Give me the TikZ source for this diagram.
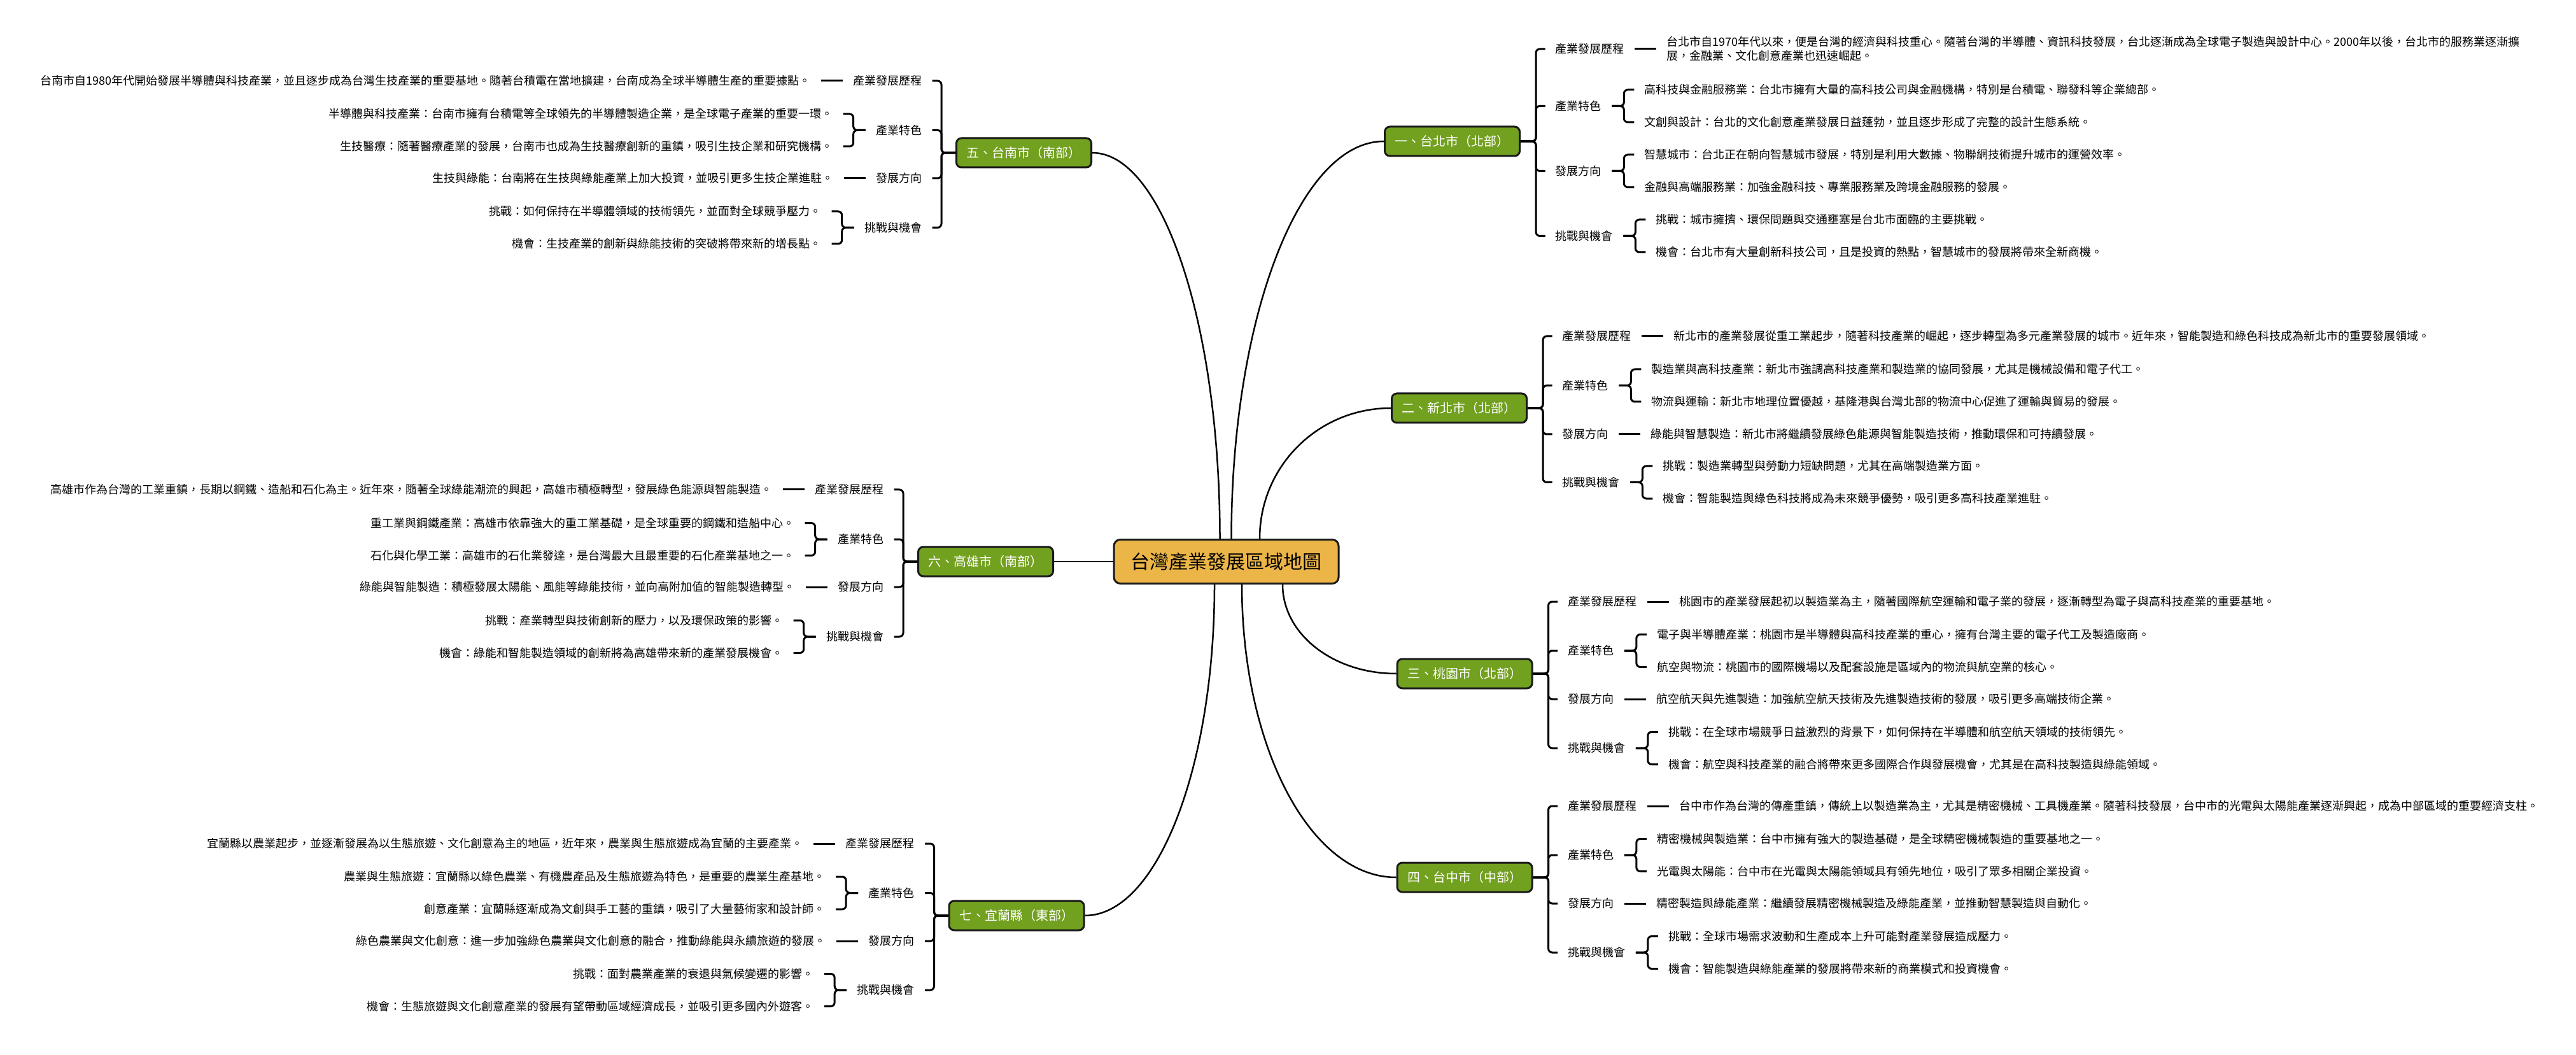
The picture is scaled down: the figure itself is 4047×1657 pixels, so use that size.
\documentclass[tikz,border=0pt]{standalone}
\usepackage{fontspec}
\setmainfont{Noto Sans CJK TC}
\definecolor{ctrfill}{HTML}{EBB548}
\definecolor{brfill}{HTML}{72A01F}
\definecolor{edgec}{HTML}{1A1A1A}
\begin{document}
\begin{tikzpicture}[x=0.5pt,y=-0.5pt,
  ctrnode/.style={draw=edgec, line width=1.5pt, fill=ctrfill, rounded corners=5pt, minimum width=176.5pt, minimum height=34.5pt, inner sep=0pt, font=\fontsize{15pt}{18pt}\selectfont},
  branch/.style={draw=edgec, line width=1.5pt, fill=brfill, rounded corners=4pt, minimum width=106pt, minimum height=23pt, inner sep=0pt, text=white, font=\fontsize{10pt}{12pt}\selectfont},
  lbl/.style={inner xsep=8pt, inner ysep=2pt, font=\fontsize{9pt}{11pt}\selectfont},
  item/.style={inner xsep=8pt, inner ysep=2pt, font=\fontsize{9pt}{11pt}\selectfont},
  curve/.style={line width=1.25pt},
  br/.style={line width=1.5pt, rounded corners=3pt},
]
\fill[white] (0,0) rectangle (4047,1657);
\useasboundingbox (0,0) rectangle (4047,1657);

% center and branches
\node[ctrnode] (ctr) at (1926.5,882) {台灣產業發展區域地圖};
\node[branch] (b1) at (2281.5,222) {一、台北市（北部）};
\node[branch] (b2) at (2292.5,641) {二、新北市（北部）};
\node[branch] (b3) at (2301,1058) {三、桃園市（北部）};
\node[branch] (b4) at (2301,1378) {四、台中市（中部）};
\node[branch] (b5) at (1608.5,240) {五、台南市（南部）};
\node[branch] (b6) at (1548.5,882) {六、高雄市（南部）};
\node[branch] (b7) at (1597,1438) {七、宜蘭縣（東部）};

\draw[curve] ([shift={(8,0)}]ctr.north) .. controls +(0,-345) and +(-133,0) .. (b1.west);
\draw[curve] ([shift={(52.5,0)}]ctr.north) .. controls +(0,-114) and +(-114,0) .. (b2.west);
\draw[curve] ([shift={(88.5,0)}]ctr.south) .. controls +(0,78) and +(-99,0) .. (b3.west);
\draw[curve] ([shift={(24.5,0)}]ctr.south) .. controls +(0,255) and +(-135,0) .. (b4.west);
\draw[curve] ([shift={(-10,0)}]ctr.north) .. controls +(0,-335) and +(111,0) .. (b5.east);
\draw[curve] (ctr.west) -- (b6.east);
\draw[curve] ([shift={(-18.5,0)}]ctr.south) .. controls +(0,288) and +(113,0) .. (b7.east);

% ---------- 1 台北 ----------
\node[lbl,anchor=west] (n1a) at (2427.5,77) {產業發展歷程};
\node[lbl,anchor=west] (n1b) at (2427.5,166.5) {產業特色};
\node[lbl,anchor=west] (n1c) at (2427.5,268.5) {發展方向};
\node[lbl,anchor=west] (n1d) at (2427.5,370.5) {挑戰與機會};
\node[item,anchor=west,align=left] (n1a1) at ([shift={(34,0)}]n1a.east) {台北市自1970年代以來，便是台灣的經濟與科技重心。隨著台灣的半導體、資訊科技發展，台北逐漸成為全球電子製造與設計中心。2000年以後，台北市的服務業逐漸擴\\展，金融業、文化創意產業也迅速崛起。};
\node[item,anchor=west] (n1b1) at ([shift={(35,-25.5)}]n1b.east) {高科技與金融服務業：台北市擁有大量的高科技公司與金融機構，特別是台積電、聯發科等企業總部。};
\node[item,anchor=west] (n1b2) at ([shift={(35,25.5)}]n1b.east) {文創與設計：台北的文化創意產業發展日益蓬勃，並且逐步形成了完整的設計生態系統。};
\node[item,anchor=west] (n1c1) at ([shift={(35,-25.5)}]n1c.east) {智慧城市：台北正在朝向智慧城市發展，特別是利用大數據、物聯網技術提升城市的運營效率。};
\node[item,anchor=west] (n1c2) at ([shift={(35,25.5)}]n1c.east) {金融與高端服務業：加強金融科技、專業服務業及跨境金融服務的發展。};
\node[item,anchor=west] (n1d1) at ([shift={(35,-25.5)}]n1d.east) {挑戰：城市擁擠、環保問題與交通壅塞是台北市面臨的主要挑戰。};
\node[item,anchor=west] (n1d2) at ([shift={(35,25.5)}]n1d.east) {機會：台北市有大量創新科技公司，且是投資的熱點，智慧城市的發展將帶來全新商機。};
\foreach \l in {n1a,n1b,n1c,n1d} \draw[br] (b1.east) -- ++(24,0) |- (\l.west);
\draw[br] (n1a.east) -- (n1a1.west);
\foreach \i in {n1b1,n1b2} \draw[br] (n1b.east) -- ++(19,0) |- (\i.west);
\foreach \i in {n1c1,n1c2} \draw[br] (n1c.east) -- ++(19,0) |- (\i.west);
\foreach \i in {n1d1,n1d2} \draw[br] (n1d.east) -- ++(19,0) |- (\i.west);

% ---------- 2 新北 ----------
\node[lbl,anchor=west] (n2a) at (2438.5,528) {產業發展歷程};
\node[lbl,anchor=west] (n2b) at (2438.5,605.5) {產業特色};
\node[lbl,anchor=west] (n2c) at (2438.5,682) {發展方向};
\node[lbl,anchor=west] (n2d) at (2438.5,757.5) {挑戰與機會};
\node[item,anchor=west] (n2a1) at ([shift={(34,0)}]n2a.east) {新北市的產業發展從重工業起步，隨著科技產業的崛起，逐步轉型為多元產業發展的城市。近年來，智能製造和綠色科技成為新北市的重要發展領域。};
\node[item,anchor=west] (n2b1) at ([shift={(35,-25.5)}]n2b.east) {製造業與高科技產業：新北市強調高科技產業和製造業的協同發展，尤其是機械設備和電子代工。};
\node[item,anchor=west] (n2b2) at ([shift={(35,25.5)}]n2b.east) {物流與運輸：新北市地理位置優越，基隆港與台灣北部的物流中心促進了運輸與貿易的發展。};
\node[item,anchor=west] (n2c1) at ([shift={(34,0)}]n2c.east) {綠能與智慧製造：新北市將繼續發展綠色能源與智能製造技術，推動環保和可持續發展。};
\node[item,anchor=west] (n2d1) at ([shift={(35,-25.5)}]n2d.east) {挑戰：製造業轉型與勞動力短缺問題，尤其在高端製造業方面。};
\node[item,anchor=west] (n2d2) at ([shift={(35,25.5)}]n2d.east) {機會：智能製造與綠色科技將成為未來競爭優勢，吸引更多高科技產業進駐。};
\foreach \l in {n2a,n2b,n2c,n2d} \draw[br] (b2.east) -- ++(24,0) |- (\l.west);
\draw[br] (n2a.east) -- (n2a1.west);
\draw[br] (n2c.east) -- (n2c1.west);
\foreach \i in {n2b1,n2b2} \draw[br] (n2b.east) -- ++(19,0) |- (\i.west);
\foreach \i in {n2d1,n2d2} \draw[br] (n2d.east) -- ++(19,0) |- (\i.west);

% ---------- 3 桃園 ----------
\node[lbl,anchor=west] (n3a) at (2447,945) {產業發展歷程};
\node[lbl,anchor=west] (n3b) at (2447,1022) {產業特色};
\node[lbl,anchor=west] (n3c) at (2447,1098) {發展方向};
\node[lbl,anchor=west] (n3d) at (2447,1175) {挑戰與機會};
\node[item,anchor=west] (n3a1) at ([shift={(34,0)}]n3a.east) {桃園市的產業發展起初以製造業為主，隨著國際航空運輸和電子業的發展，逐漸轉型為電子與高科技產業的重要基地。};
\node[item,anchor=west] (n3b1) at ([shift={(35,-25.5)}]n3b.east) {電子與半導體產業：桃園市是半導體與高科技產業的重心，擁有台灣主要的電子代工及製造廠商。};
\node[item,anchor=west] (n3b2) at ([shift={(35,25.5)}]n3b.east) {航空與物流：桃園市的國際機場以及配套設施是區域內的物流與航空業的核心。};
\node[item,anchor=west] (n3c1) at ([shift={(34,0)}]n3c.east) {航空航天與先進製造：加強航空航天技術及先進製造技術的發展，吸引更多高端技術企業。};
\node[item,anchor=west] (n3d1) at ([shift={(35,-25.5)}]n3d.east) {挑戰：在全球市場競爭日益激烈的背景下，如何保持在半導體和航空航天領域的技術領先。};
\node[item,anchor=west] (n3d2) at ([shift={(35,25.5)}]n3d.east) {機會：航空與科技產業的融合將帶來更多國際合作與發展機會，尤其是在高科技製造與綠能領域。};
\foreach \l in {n3a,n3b,n3c,n3d} \draw[br] (b3.east) -- ++(24,0) |- (\l.west);
\draw[br] (n3a.east) -- (n3a1.west);
\draw[br] (n3c.east) -- (n3c1.west);
\foreach \i in {n3b1,n3b2} \draw[br] (n3b.east) -- ++(19,0) |- (\i.west);
\foreach \i in {n3d1,n3d2} \draw[br] (n3d.east) -- ++(19,0) |- (\i.west);

% ---------- 4 台中 ----------
\node[lbl,anchor=west] (n4a) at (2447,1266) {產業發展歷程};
\node[lbl,anchor=west] (n4b) at (2447,1343) {產業特色};
\node[lbl,anchor=west] (n4c) at (2447,1419) {發展方向};
\node[lbl,anchor=west] (n4d) at (2447,1496) {挑戰與機會};
\node[item,anchor=west] (n4a1) at ([shift={(34,0)}]n4a.east) {台中市作為台灣的傳產重鎮，傳統上以製造業為主，尤其是精密機械、工具機產業。隨著科技發展，台中市的光電與太陽能產業逐漸興起，成為中部區域的重要經濟支柱。};
\node[item,anchor=west] (n4b1) at ([shift={(35,-25.5)}]n4b.east) {精密機械與製造業：台中市擁有強大的製造基礎，是全球精密機械製造的重要基地之一。};
\node[item,anchor=west] (n4b2) at ([shift={(35,25.5)}]n4b.east) {光電與太陽能：台中市在光電與太陽能領域具有領先地位，吸引了眾多相關企業投資。};
\node[item,anchor=west] (n4c1) at ([shift={(34,0)}]n4c.east) {精密製造與綠能產業：繼續發展精密機械製造及綠能產業，並推動智慧製造與自動化。};
\node[item,anchor=west] (n4d1) at ([shift={(35,-25.5)}]n4d.east) {挑戰：全球市場需求波動和生產成本上升可能對產業發展造成壓力。};
\node[item,anchor=west] (n4d2) at ([shift={(35,25.5)}]n4d.east) {機會：智能製造與綠能產業的發展將帶來新的商業模式和投資機會。};
\foreach \l in {n4a,n4b,n4c,n4d} \draw[br] (b4.east) -- ++(24,0) |- (\l.west);
\draw[br] (n4a.east) -- (n4a1.west);
\draw[br] (n4c.east) -- (n4c1.west);
\foreach \i in {n4b1,n4b2} \draw[br] (n4b.east) -- ++(19,0) |- (\i.west);
\foreach \i in {n4d1,n4d2} \draw[br] (n4d.east) -- ++(19,0) |- (\i.west);

% ---------- 5 台南 ----------
\node[lbl,anchor=east] (n5a) at (1464.5,127) {產業發展歷程};
\node[lbl,anchor=east] (n5b) at (1464.5,204.5) {產業特色};
\node[lbl,anchor=east] (n5c) at (1464.5,280) {發展方向};
\node[lbl,anchor=east] (n5d) at (1464.5,357.5) {挑戰與機會};
\node[item,anchor=east] (n5a1) at ([shift={(-34,0)}]n5a.west) {台南市自1980年代開始發展半導體與科技產業，並且逐步成為台灣生技產業的重要基地。隨著台積電在當地擴建，台南成為全球半導體生產的重要據點。};
\node[item,anchor=east] (n5b1) at ([shift={(-35,-25.5)}]n5b.west) {半導體與科技產業：台南市擁有台積電等全球領先的半導體製造企業，是全球電子產業的重要一環。};
\node[item,anchor=east] (n5b2) at ([shift={(-35,25.5)}]n5b.west) {生技醫療：隨著醫療產業的發展，台南市也成為生技醫療創新的重鎮，吸引生技企業和研究機構。};
\node[item,anchor=east] (n5c1) at ([shift={(-34,0)}]n5c.west) {生技與綠能：台南將在生技與綠能產業上加大投資，並吸引更多生技企業進駐。};
\node[item,anchor=east] (n5d1) at ([shift={(-35,-25.5)}]n5d.west) {挑戰：如何保持在半導體領域的技術領先，並面對全球競爭壓力。};
\node[item,anchor=east] (n5d2) at ([shift={(-35,25.5)}]n5d.west) {機會：生技產業的創新與綠能技術的突破將帶來新的增長點。};
\foreach \l in {n5a,n5b,n5c,n5d} \draw[br] (b5.west) -- ++(-22,0) |- (\l.east);
\draw[br] (n5a.west) -- (n5a1.east);
\draw[br] (n5c.west) -- (n5c1.east);
\foreach \i in {n5b1,n5b2} \draw[br] (n5b.west) -- ++(-19,0) |- (\i.east);
\foreach \i in {n5d1,n5d2} \draw[br] (n5d.west) -- ++(-19,0) |- (\i.east);

% ---------- 6 高雄 ----------
\node[lbl,anchor=east] (n6a) at (1404.5,769) {產業發展歷程};
\node[lbl,anchor=east] (n6b) at (1404.5,847) {產業特色};
\node[lbl,anchor=east] (n6c) at (1404.5,922) {發展方向};
\node[lbl,anchor=east] (n6d) at (1404.5,1000) {挑戰與機會};
\node[item,anchor=east] (n6a1) at ([shift={(-34,0)}]n6a.west) {高雄市作為台灣的工業重鎮，長期以鋼鐵、造船和石化為主。近年來，隨著全球綠能潮流的興起，高雄市積極轉型，發展綠色能源與智能製造。};
\node[item,anchor=east] (n6b1) at ([shift={(-35,-25.5)}]n6b.west) {重工業與鋼鐵產業：高雄市依靠強大的重工業基礎，是全球重要的鋼鐵和造船中心。};
\node[item,anchor=east] (n6b2) at ([shift={(-35,25.5)}]n6b.west) {石化與化學工業：高雄市的石化業發達，是台灣最大且最重要的石化產業基地之一。};
\node[item,anchor=east] (n6c1) at ([shift={(-34,0)}]n6c.west) {綠能與智能製造：積極發展太陽能、風能等綠能技術，並向高附加值的智能製造轉型。};
\node[item,anchor=east] (n6d1) at ([shift={(-35,-25.5)}]n6d.west) {挑戰：產業轉型與技術創新的壓力，以及環保政策的影響。};
\node[item,anchor=east] (n6d2) at ([shift={(-35,25.5)}]n6d.west) {機會：綠能和智能製造領域的創新將為高雄帶來新的產業發展機會。};
\foreach \l in {n6a,n6b,n6c,n6d} \draw[br] (b6.west) -- ++(-22,0) |- (\l.east);
\draw[br] (n6a.west) -- (n6a1.east);
\draw[br] (n6c.west) -- (n6c1.east);
\foreach \i in {n6b1,n6b2} \draw[br] (n6b.west) -- ++(-19,0) |- (\i.east);
\foreach \i in {n6d1,n6d2} \draw[br] (n6d.west) -- ++(-19,0) |- (\i.east);

% ---------- 7 宜蘭 ----------
\node[lbl,anchor=east] (n7a) at (1453,1325) {產業發展歷程};
\node[lbl,anchor=east] (n7b) at (1453,1402.5) {產業特色};
\node[lbl,anchor=east] (n7c) at (1453,1478) {發展方向};
\node[lbl,anchor=east] (n7d) at (1453,1555) {挑戰與機會};
\node[item,anchor=east] (n7a1) at ([shift={(-34,0)}]n7a.west) {宜蘭縣以農業起步，並逐漸發展為以生態旅遊、文化創意為主的地區，近年來，農業與生態旅遊成為宜蘭的主要產業。};
\node[item,anchor=east] (n7b1) at ([shift={(-35,-25.5)}]n7b.west) {農業與生態旅遊：宜蘭縣以綠色農業、有機農產品及生態旅遊為特色，是重要的農業生產基地。};
\node[item,anchor=east] (n7b2) at ([shift={(-35,25.5)}]n7b.west) {創意產業：宜蘭縣逐漸成為文創與手工藝的重鎮，吸引了大量藝術家和設計師。};
\node[item,anchor=east] (n7c1) at ([shift={(-34,0)}]n7c.west) {綠色農業與文化創意：進一步加強綠色農業與文化創意的融合，推動綠能與永續旅遊的發展。};
\node[item,anchor=east] (n7d1) at ([shift={(-35,-25.5)}]n7d.west) {挑戰：面對農業產業的衰退與氣候變遷的影響。};
\node[item,anchor=east] (n7d2) at ([shift={(-35,25.5)}]n7d.west) {機會：生態旅遊與文化創意產業的發展有望帶動區域經濟成長，並吸引更多國內外遊客。};
\foreach \l in {n7a,n7b,n7c,n7d} \draw[br] (b7.west) -- ++(-22,0) |- (\l.east);
\draw[br] (n7a.west) -- (n7a1.east);
\draw[br] (n7c.west) -- (n7c1.east);
\foreach \i in {n7b1,n7b2} \draw[br] (n7b.west) -- ++(-19,0) |- (\i.east);
\foreach \i in {n7d1,n7d2} \draw[br] (n7d.west) -- ++(-19,0) |- (\i.east);
\end{tikzpicture}
\end{document}
